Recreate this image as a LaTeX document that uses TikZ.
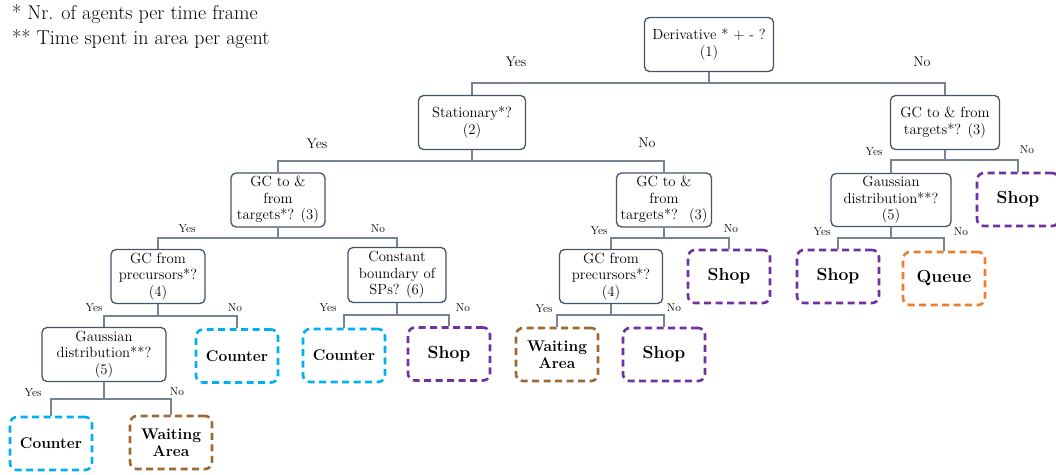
\documentclass[tikz,border=0pt]{standalone}
\usepackage{fontspec}
\definecolor{decC}{RGB}{68,84,106}
\definecolor{conC}{RGB}{120,132,148}
\definecolor{cyaC}{RGB}{0,176,240}
\definecolor{purC}{RGB}{112,48,160}
\definecolor{broC}{RGB}{158,104,50}
\definecolor{oraC}{RGB}{237,125,49}
\tikzset{
  decbox/.style={draw=decC, line width=1.3pt, rounded corners=5pt, align=center,
    inner sep=1pt, minimum height=54pt, font=\fontsize{14.7}{16.5}\selectfont},
  leafbox/.style={draw=#1, line width=2.6pt, dash pattern=on 7pt off 4.5pt,
    rounded corners=7pt, align=center, inner sep=1pt, minimum width=82pt,
    minimum height=53pt, font=\bfseries\fontsize{15.5}{17}\selectfont},
  shopfont/.style={font=\bfseries\fontsize{17.5}{17.5}\selectfont},
  biglbl/.style={font=\fontsize{14}{14}\selectfont, inner sep=0pt},
  smlbl/.style={font=\fontsize{11.5}{11.5}\selectfont, inner sep=0pt},
  conn/.style={draw=conC, line width=1.1pt},
  note/.style={font=\fontsize{20}{20}\selectfont, inner sep=0pt, anchor=base west}
}
\begin{document}
\begin{tikzpicture}[x=1pt,y=-1pt]
\useasboundingbox (0,0) rectangle (1056,474);
% footnotes
\node[note] (f1) at (12,19) {* Nr. of agents per time frame};
\node[note] (f2) at (12,44) {** Time spent in area per agent};
% decision nodes
\node[decbox, minimum width=129pt] (n1) at (709,44.5) {Derivative * + - ?\\(1)};
\node[decbox, minimum width=107pt] (n2) at (472,122.5) {Stationary*?\\(2)};
\node[decbox, minimum width=109pt] (n3) at (945,122.5) {GC to \& from\\targets*? (3)};
\node[decbox, minimum width=94pt] (n4) at (278,200) {GC to \&\\from\\targets*? (3)};
\node[decbox, minimum width=95pt] (n5) at (664,200) {GC to \&\\from\\targets*?~ (3)};
\node[decbox, minimum width=94pt] (n6) at (158,276.5) {GC from\\precursors*?\\(4)};
\node[decbox, minimum width=98pt, minimum height=55pt] (n7) at (397,275) {Constant\\boundary of\\SPs? (6)};
\node[decbox, minimum width=124pt] (n8) at (104,354.5) {Gaussian\\distribution**?\\(5)};
\node[decbox, minimum width=103pt] (n9) at (611,276.5) {GC from\\precursors*?\\(4)};
\node[decbox, minimum width=120pt, minimum height=53pt] (n10) at (891,200) {Gaussian\\distribution**?\\(5)};
% leaves
\node[leafbox=cyaC] (l1) at (237,356) {Counter};
\node[leafbox=cyaC] (l2) at (344,355.5) {Counter};
\node[leafbox=purC, shopfont] (l3) at (449,354) {Shop};
\node[leafbox=cyaC] (l4) at (51,443.5) {Counter};
\node[leafbox=broC] (l5) at (171,442.5) {Waiting\\Area};
\node[leafbox=purC, shopfont] (l6) at (729,276.5) {Shop};
\node[leafbox=broC] (l7) at (557,354.5) {Waiting\\Area};
\node[leafbox=purC, shopfont] (l8) at (664,354.5) {Shop};
\node[leafbox=purC, shopfont] (l9) at (1018,199.5) {Shop};
\node[leafbox=purC, shopfont] (l10) at (838,276.5) {Shop};
\node[leafbox=oraC, shopfont] (l11) at (944,278.5) {Queue};
% junctions
\coordinate (j1) at (709,83);
\coordinate (j2) at (472,161);
\coordinate (j3) at (945,160);
\coordinate (j4) at (278,238);
\coordinate (j5) at (664,238);
\coordinate (j6) at (158,316);
\coordinate (j7) at (397,315);
\coordinate (j8) at (104,399);
\coordinate (j9) at (611,315);
\coordinate (j10) at (891,238);
% connectors
\draw[conn] (n1.south) -- (j1) -| (n2.north);
\draw[conn] (j1) -| (n3.north);
\draw[conn] (n2.south) -- (j2) -| (n4.north);
\draw[conn] (j2) -| (n5.north);
\draw[conn] (n3.south) -- (j3) -| (n10.north);
\draw[conn] (j3) -| (l9.north);
\draw[conn] (n4.south) -- (j4) -| (n6.north);
\draw[conn] (j4) -| (n7.north);
\draw[conn] (n5.south) -- (j5) -| (n9.north);
\draw[conn] (j5) -| (l6.north);
\draw[conn] (n6.south) -- (j6) -| (n8.north);
\draw[conn] (j6) -| (l1.north);
\draw[conn] (n7.south) -- (j7) -| (l2.north);
\draw[conn] (j7) -| (l3.north);
\draw[conn] (n8.south) -- (j8) -| (l4.north);
\draw[conn] (j8) -| (l5.north);
\draw[conn] (n9.south) -- (j9) -| (l7.north);
\draw[conn] (j9) -| (l8.north);
\draw[conn] (n10.south) -- (j10) -| (l10.north);
\draw[conn] (j10) -| (l11.north);
% labels
\node[biglbl] (y1) at (516,62) {Yes};
\node[biglbl] (o1) at (922,62) {No};
\node[biglbl] (y2) at (317,144) {Yes};
\node[biglbl] (o2) at (647,143) {No};
\node[smlbl] (y3) at (874,152) {Yes};
\node[smlbl] (o3) at (1027,150) {No};
\node[smlbl] (y4) at (187,229) {Yes};
\node[smlbl] (o4) at (378,229) {No};
\node[smlbl] (y5) at (599,231) {Yes};
\node[smlbl] (o5) at (731,229) {No};
\node[smlbl] (y6) at (94,308) {Yes};
\node[smlbl] (o6) at (235,308) {No};
\node[smlbl] (y7) at (328,308) {Yes};
\node[smlbl] (o7) at (463,308) {No};
\node[smlbl] (y8) at (33,393) {Yes};
\node[smlbl] (o8) at (177,392) {No};
\node[smlbl] (y9) at (544,309) {Yes};
\node[smlbl] (o9) at (674,308) {No};
\node[smlbl] (y10) at (822,232) {Yes};
\node[smlbl] (o10) at (961,232) {No};
\end{tikzpicture}
\end{document}
